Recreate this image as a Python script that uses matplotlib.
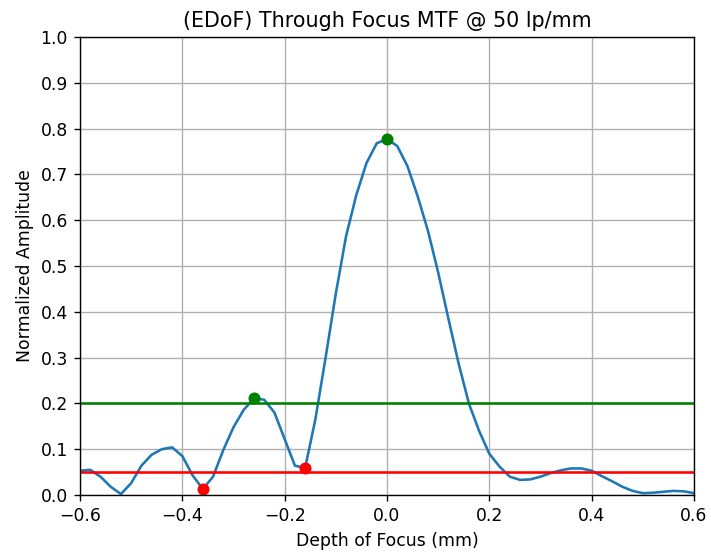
import matplotlib
matplotlib.use("Agg")
import matplotlib.pyplot as plt
import numpy as np

# depth of focus samples (mm), step 0.02
dof = np.round(np.arange(-0.6, 0.6001, 0.02), 2)
mtf = [0.053, 0.055, 0.040, 0.018, 0.002, 0.026, 0.064, 0.088, 0.100, 0.104,
       0.085, 0.043, 0.013, 0.040, 0.098, 0.148, 0.186, 0.211, 0.208, 0.180,
       0.122, 0.064, 0.059, 0.165, 0.300, 0.440, 0.565, 0.655, 0.725, 0.768,
       0.777, 0.762, 0.718, 0.652, 0.577, 0.486, 0.385, 0.287, 0.200, 0.140,
       0.090, 0.062, 0.040, 0.033, 0.034, 0.040, 0.048, 0.054, 0.058, 0.058,
       0.053, 0.041, 0.030, 0.018, 0.009, 0.004, 0.005, 0.007, 0.009, 0.008,
       0.004]

peak_x = [-0.26, 0.0]
peak_y = [0.211, 0.777]
valley_x = [-0.36, -0.16]
valley_y = [0.013, 0.059]

upper_thresh = 0.2
lower_thresh = 0.05

# the reference looks like a default-styled figure scaled up ~1.24x
DPI = 123.8
fig, ax = plt.subplots(figsize=(711 / DPI, 556 / DPI), dpi=DPI)
fig.subplots_adjust(left=80 / 711, right=694 / 711, top=1 - 37 / 556, bottom=1 - 495 / 556)

ax.plot(dof, mtf)
ax.axhline(upper_thresh, color='g')
ax.axhline(lower_thresh, color='r')
ax.plot(peak_x, peak_y, 'o', color='g')
ax.plot(valley_x, valley_y, 'o', color='r')

ax.set_xlim(-0.6, 0.6)
ax.set_ylim(0, 1)
ax.set_yticks(np.arange(0, 1.01, 0.1))
ax.grid(True)
ax.set_title('(EDoF) Through Focus MTF @ 50 lp/mm')
ax.set_xlabel('Depth of Focus (mm)')
ax.set_ylabel('Normalized Amplitude')

fig.savefig('out.png', dpi=DPI)
